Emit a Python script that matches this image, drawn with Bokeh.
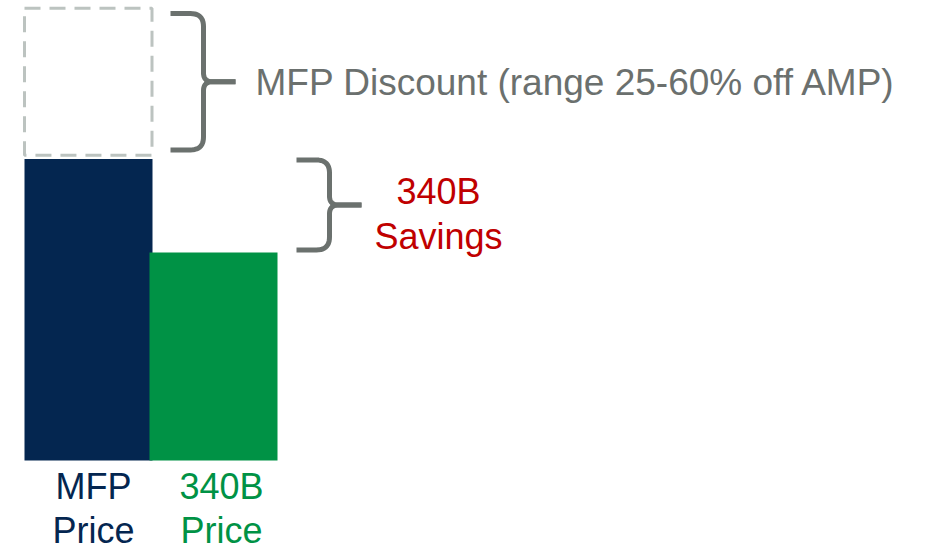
import numpy as np
from bokeh.plotting import figure
from bokeh.models import Range1d
from bokeh.core.properties import value
from bokeh.embed import file_html
from bokeh.resources import INLINE

# ---------------- data ----------------
categories = ["MFP Price", "340B Price"]
label_lines = [["MFP", "Price"], ["340B", "Price"]]
prices = [100, 69]            # relative price level (MFP price = 100)
amp_price = 150               # AMP level (top of dashed box)
discount_label = "MFP Discount (range 25-60% off AMP)"
savings_lines = ["340B", "Savings"]

# ---------------- styles / layout ----------------
bar_colors = ["#042650", "#009245"]
label_colors = ["#042650", "#009245"]
dash_color = "#bcc3c0"
brace_color = "#6b716e"
gray_text = "#6b706e"
red_text = "#c00000"
FONT = value("Liberation Sans")

W, H = 927, 552
PX = 3.015                    # pixels per value unit
BASE_PX = 460                 # pixel row of value 0
Y1 = BASE_PX / PX
Y0 = -(H - BASE_PX) / PX

BAR_LEFT, BAR_W, BAR_STEP = 24, 128, 125
label_dx = [5, 8]
TXT_CORR = 14.5               # baseline correction for svg text

p = figure(width=W, height=H, x_range=Range1d(0, W), y_range=Range1d(Y0, Y1),
           output_backend="svg", toolbar_location=None, min_border=0,
           x_axis_location=None, y_axis_location=None)
p.grid.visible = False
p.outline_line_color = None
p.background_fill_color = "white"
p.border_fill_color = "white"

n = len(categories)
lefts = [BAR_LEFT + i * BAR_STEP for i in range(n)]
rights = [l + BAR_W for l in lefts]
centers = [(l + r) / 2 for l, r in zip(lefts, rights)]

# dashed AMP box above MFP bar
gap = 3.8 / PX
p.quad(left=[lefts[0]], right=[rights[0] - 0.5], bottom=[prices[0] + gap], top=[amp_price],
       fill_color=None, line_color=dash_color, line_width=3, line_dash="16 9")

# bars
p.quad(left=lefts, right=rights, bottom=0, top=prices, fill_color=bar_colors,
       line_color=None)


def bez(p0, c, p1, k=12):
    t = np.linspace(0, 1, k)
    x = (1 - t) ** 2 * p0[0] + 2 * (1 - t) * t * c[0] + t ** 2 * p1[0]
    y = (1 - t) ** 2 * p0[1] + 2 * (1 - t) * t * c[1] + t ** 2 * p1[1]
    return list(x), list(y)


def brace(x0, y_top, y_bot, arm=33, tip=32, r_end=13, r_mid=9):
    xs = x0 + arm
    xt = xs + tip
    ym = (y_top + y_bot) / 2
    halves = []
    for yend, sgn in ((y_top, -1), (y_bot, 1)):
        re = r_end / PX * -sgn
        rm = r_mid / PX * -sgn
        xx, yy = [x0], [yend]
        bx, by = bez((xs - r_end, yend), (xs, yend), (xs, yend - re))
        xx += bx; yy += by
        bx, by = bez((xs, ym + rm), (xs, ym), (xs + r_mid, ym))
        xx += bx; yy += by
        xx.append(xt); yy.append(ym)
        halves.append((xx, yy))
    return [h[0] for h in halves], [h[1] for h in halves], (xt, ym)


# brace 1: AMP -> MFP (discount)
inset = 5.3 / PX
bx1, by1, tip1 = brace(170, amp_price - inset, prices[0] + gap + inset)
p.multi_line(bx1, by1, line_color=brace_color, line_width=5, line_cap="butt", line_join="round")
# brace 2: MFP -> 340B (savings)
bx2, by2, tip2 = brace(296, prices[0] - 1 / PX, prices[1] + 2.5 / PX)
p.multi_line(bx2, by2, line_color=brace_color, line_width=5, line_cap="butt", line_join="round")

p.text(x=[tip1[0] + 20], y=[tip1[1]], text=[discount_label], text_font=FONT,
       text_font_size="37px", text_color=gray_text, text_align="left",
       text_baseline="alphabetic", y_offset=15 - TXT_CORR)

for i, line in enumerate(savings_lines):
    p.text(x=[tip2[0] + 77], y=[tip2[1]], text=[line], text_font=FONT,
           text_font_size="36px", text_color=red_text, text_align="center",
           text_baseline="alphabetic", y_offset=1 + i * 45 - TXT_CORR)

for j in range(2):
    p.text(x=[c + dx for c, dx in zip(centers, label_dx)], y=[0, 0],
           text=[ll[j] for ll in label_lines], text_font=FONT,
           text_font_size="36px", text_color=label_colors, text_align="center",
           text_baseline="alphabetic", y_offset=40 + j * 44 - TXT_CORR)

open("out.html", "w").write(file_html(p, INLINE))
